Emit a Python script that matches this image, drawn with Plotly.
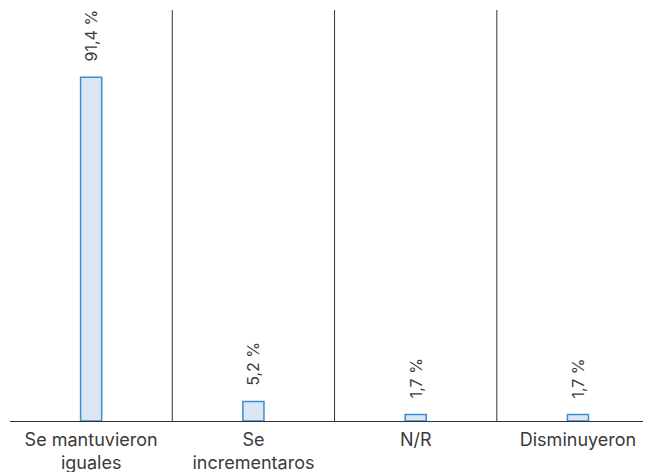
import plotly.graph_objects as go

categories = ["Se mantuvieron<br>iguales", "Se<br>incrementaros", "N/R", "Disminuyeron"]
values = [91.4, 5.2, 1.7, 1.7]
labels = ["91,4 %", "5,2 %", "1,7 %", "1,7 %"]

xs = list(range(len(categories)))

fig = go.Figure(go.Bar(
    x=xs,
    y=values,
    marker=dict(color="#dce5f3", line=dict(color="#3a8fd0", width=1.5)),
    width=0.13,
    hoverinfo="skip",
))

for xi, v, t in zip(xs, values, labels):
    fig.add_annotation(x=xi, y=v, text=t, textangle=-90, showarrow=False,
                       xanchor="center", yanchor="bottom", yshift=14,
                       font=dict(family="Inter", size=16, color="#3a3a3a"))

for b in [0.5, 1.5, 2.5]:
    fig.add_shape(type="line", xref="x", yref="paper", x0=b, x1=b, y0=0, y1=1,
                  line=dict(color="#333333", width=1))

fig.update_layout(
    width=643, height=464,
    margin=dict(l=2, r=0, t=2, b=51),
    paper_bgcolor="white", plot_bgcolor="white",
    showlegend=False,
    font=dict(family="Inter", color="#3a3a3a"),
    xaxis=dict(range=[-0.5, 3.45], tickmode="array", tickvals=xs,
               ticktext=categories, showgrid=False, zeroline=False, showline=True,
               linecolor="#333333", linewidth=1, ticks="", ticklabelstandoff=2,
               tickfont=dict(family="Inter", size=18, color="#3a3a3a")),
    yaxis=dict(range=[0, 109.3], visible=False),
)

fig.write_html("out.html")
